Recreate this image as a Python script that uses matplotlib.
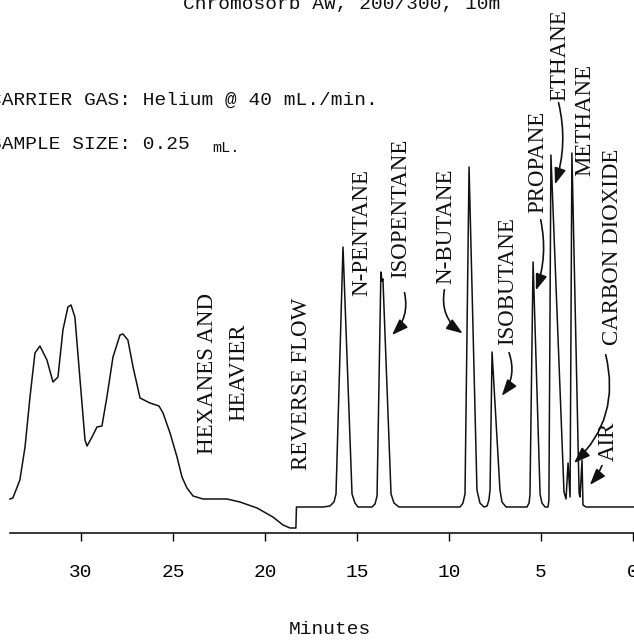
import matplotlib
matplotlib.use("Agg")
import matplotlib.pyplot as plt
from matplotlib.patches import FancyArrowPatch

# Chromatogram trace: retention time (min) and detector response (arbitrary units)
times = [33.86, 33.70, 33.32, 33.04, 32.77, 32.50, 32.23, 31.85, 31.52, 31.25,
         30.98, 30.71, 30.54, 30.33, 30.05, 29.78, 29.67, 29.40, 29.13, 28.86,
         28.59, 28.26, 27.88, 27.72, 27.45, 27.17, 26.79, 26.25, 25.76, 25.54,
         25.16, 24.78, 24.51, 24.24, 23.91, 23.37, 22.07, 21.36, 20.43, 19.57,
         19.02, 18.64, 18.32, 18.29, 18.21, 16.85,
         16.47, 16.25, 16.14, 15.76, 15.27, 15.11, 14.95, 14.18,
         14.02, 13.91, 13.70, 13.64, 13.59, 13.15, 12.99, 12.72, 9.40,
         9.24, 9.13, 8.91, 8.48, 8.32, 8.10,
         7.93, 7.83, 7.77, 7.66, 7.23, 7.12, 6.90, 5.76,
         5.65, 5.60, 5.43, 5.05, 4.95, 4.78, 4.62,
         4.57, 4.46, 3.75, 3.64, 3.53, 3.42, 3.32, 2.93, 2.88,
         2.77, 2.72, 2.55, -0.05]
signal = [34, 35, 53, 86, 136, 180, 187, 173, 151, 156,
          203, 226, 228, 216, 153, 93, 87, 96, 106, 107,
          136, 176, 198, 199, 193, 166, 135, 130, 127, 120,
          100, 76, 56, 45, 37, 34, 34, 31, 25, 16,
          8, 5, 5, 26, 26, 26,
          27, 31, 39, 286, 39, 30, 26, 26,
          29, 37, 261, 252, 254, 39, 30, 26, 26,
          30, 39, 366, 43, 30, 26,
          27, 33, 43, 181, 43, 31, 26, 26,
          30, 38, 271, 39, 30, 26, 26,
          33, 378, 41, 34, 70, 36, 380, 40, 36,
          73, 28, 26, 26]

tick_minutes = [30, 25, 20, 15, 10, 5, 0]

# peak labels: text, time, height
labels = ["HEXANES AND", "HEAVIER", "REVERSE FLOW", "N-PENTANE", "ISOPENTANE",
          "N-BUTANE", "ISOBUTANE", "PROPANE", "ETHANE", "METHANE",
          "CARBON DIOXIDE", "AIR"]
label_t = [23.15, 21.41, 17.99, 14.73, 12.61, 10.16, 6.79, 5.16, 3.97, 2.61, 1.14, 1.36]
label_s = [160, 161, 149, 301, 325, 307, 252, 371, 478, 413, 286, 92]

# arrows from labels to peaks: start (t, s), end (t, s), curvature
arrow_start = [(12.45, 243), (10.22, 246), (6.79, 183), (5.05, 316),
               (4.08, 433), (1.52, 181), (1.63, 70)]
arrow_end = [(13.21, 196), (9.13, 198), (7.23, 135), (5.33, 240),
             (4.29, 346), (3.32, 68), (2.45, 46)]
arrow_rad = [-0.3, 0.35, -0.3, -0.15, -0.15, -0.3, -0.1]

mono = "Liberation Mono"
serif = "Liberation Serif"
ink = "#111111"

fig = plt.figure(figsize=(6.34, 6.44), dpi=100)
ax = fig.add_axes([0, 111 / 644, 1, 533 / 644])
ax.plot(times, signal, color=ink, lw=1.1)
ax.set_xlim(34.40, -0.054)
ax.set_ylim(0, 533)

for side in ["top", "left", "right"]:
    ax.spines[side].set_visible(False)
ax.spines["bottom"].set_bounds(33.86, -0.054)
ax.spines["bottom"].set_linewidth(1.1)
ax.set_yticks([])
ax.set_xticks(tick_minutes)
ax.set_xticklabels([str(m) for m in tick_minutes], fontfamily=mono, fontsize=14)
ax.tick_params(axis="x", direction="out", length=6, width=1.0, pad=16)

for text, t, s in zip(labels, label_t, label_s):
    ax.text(t, s, text, rotation=90, ha="center", va="center",
            fontfamily=serif, fontsize=16.5, color=ink)

for (t0, s0), (t1, s1), rad in zip(arrow_start, arrow_end, arrow_rad):
    arr = FancyArrowPatch((t0, s0), (t1, s1), connectionstyle=f"arc3,rad={rad}",
                          arrowstyle="-|>,head_length=0.7,head_width=0.25",
                          mutation_scale=14, lw=1.2, color=ink)
    ax.add_patch(arr)

# column description, partly above the top edge of the sheet
fig.text(183 / 634, 1 - 9 / 644, "Chromosorb AW, 200/300, 10m", fontfamily=mono,
         fontsize=14, va="baseline", ha="left", color=ink)
fig.text(-10 / 634, 1 - 100 / 644, "CARRIER GAS: Helium @ 40 mL./min.",
         fontfamily=mono, fontsize=14, va="center", ha="left", color=ink)
fig.text(-10 / 634, 1 - 145 / 644, "SAMPLE SIZE: 0.25", fontfamily=mono,
         fontsize=14, va="center", ha="left", color=ink)
fig.text(212 / 634, 1 - 148 / 644, "mL.", fontfamily=mono,
         fontsize=11, va="center", ha="left", color=ink)
fig.text(330 / 634, 1 - 630 / 644, "Minutes", fontfamily=mono,
         fontsize=14, va="center", ha="center", color=ink)

fig.savefig("out.png", dpi=100)
